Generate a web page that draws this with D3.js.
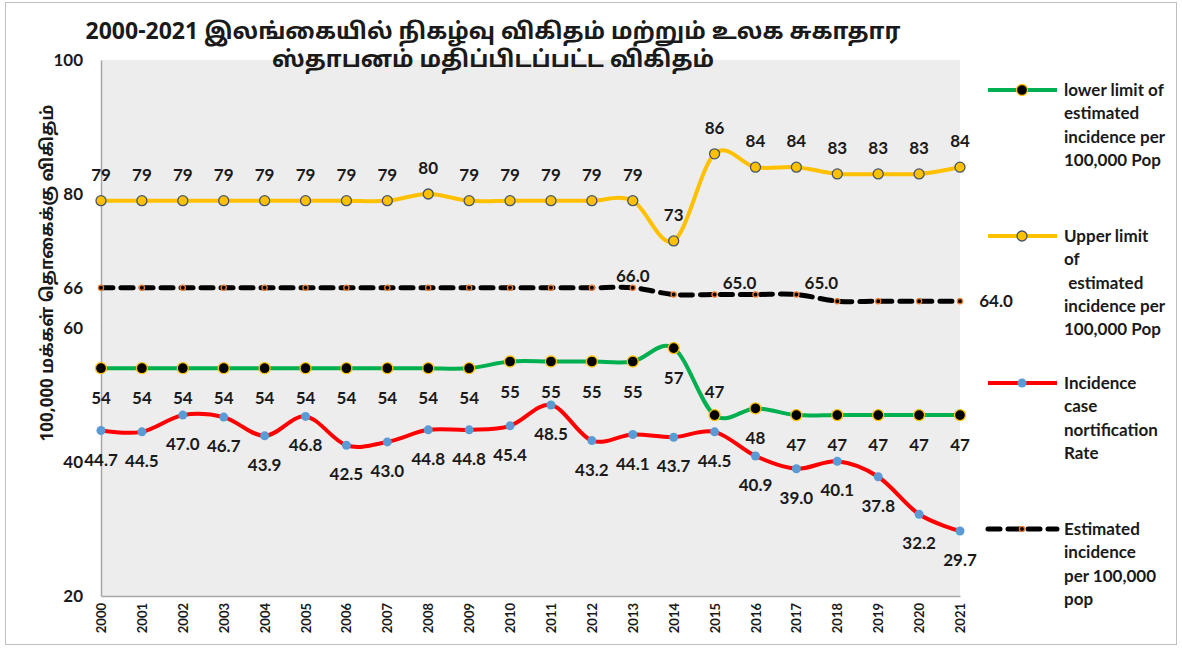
<!DOCTYPE html>
<html>
<head>
<meta charset="utf-8">
<script src="https://cdn.jsdelivr.net/npm/d3@7"></script>
<style>
  body { margin: 0; background: #fff; }
  svg { display: block; }
  text { font-family: Lato, "Noto Sans", sans-serif; font-weight: 700; fill: #1a1a1a; }
  .ta { font-family: "Noto Sans Tamil", "Lohit Tamil", "Noto Sans", sans-serif; }
</style>
</head>
<body>
<svg id="chart" width="1182" height="648"></svg>
<script>
// data
var years = [2000,2001,2002,2003,2004,2005,2006,2007,2008,2009,2010,2011,2012,2013,2014,2015,2016,2017,2018,2019,2020,2021];
var lowerLimit = [54,54,54,54,54,54,54,54,54,54,55,55,55,55,57,47,48,47,47,47,47,47];
var upperLimit = [79,79,79,79,79,79,79,79,80,79,79,79,79,79,73,86,84,84,83,83,83,84];
var notification = [44.7,44.5,47.0,46.7,43.9,46.8,42.5,43.0,44.8,44.8,45.4,48.5,43.2,44.1,43.7,44.5,40.9,39.0,40.1,37.8,32.2,29.7];
var estimated = [66,66,66,66,66,66,66,66,66,66,66,66,66,66,65,65,65,65,64,64,64,64];
var estLabelYears = [2013, 2015, 2017, 2021];
var yTicks = [20, 40, 60, 66, 80, 100];

var titleLines = ["2000-2021 இலங்கையில் நிகழ்வு விகிதம் மற்றும் உலக சுகாதார", "ஸ்தாபனம் மதிப்பிடப்பட்ட விகிதம்"];
var yTitle = "100,000 மக்கள் தொகைக்கு விகிதம்";

var svg = d3.select("#chart");

// outer frame
svg.append("rect").attr("x", 5.5).attr("y", 2.5).attr("width", 1171).attr("height", 642)
  .attr("fill", "#fff").attr("stroke", "#bfbfbf");

var x = d3.scalePoint().domain(years).range([101, 960]);
var y = d3.scaleLinear().domain([20, 100]).range([596, 60]);

// plot area
svg.append("rect").attr("x", 101).attr("y", 60).attr("width", 859).attr("height", 536).attr("fill", "#ededed");

// axes
svg.append("g").attr("transform", "translate(101,0)")
  .call(d3.axisLeft(y).tickValues(yTicks).tickSize(0).tickPadding(18))
  .call(function (g) {
    g.select(".domain").attr("stroke", "#a6a6a6").attr("stroke-width", 1.5);
    g.selectAll("text").style("font-size", "17px").attr("fill", "#1a1a1a");
  });
svg.append("g").attr("transform", "translate(0,596)")
  .call(d3.axisBottom(x).tickSize(0))
  .call(function (g) {
    g.select(".domain").attr("stroke", "#a6a6a6").attr("stroke-width", 1.5);
    g.selectAll("text").style("font-size", "13px").attr("fill", "#1a1a1a")
      .attr("text-anchor", "end").attr("dy", "0.35em")
      .attr("transform", "translate(0,7) rotate(-90)").attr("x", 0).attr("y", 0);
  });

// title
svg.append("text").attr("class", "ta").attr("text-anchor", "middle")
  .style("font-size", "23px")
  .selectAll("tspan").data(titleLines).enter().append("tspan")
  .attr("x", 493).attr("y", function (d, i) { return 39 + i * 28; })
  .text(function (d) { return d; });

svg.append("text").attr("class", "ta").attr("text-anchor", "middle")
  .attr("transform", "translate(53,273) rotate(-90)")
  .style("font-size", "17px").text(yTitle);

function line() {
  return d3.line().x(function (d, i) { return x(years[i]); }).y(function (d) { return y(d); })
    .curve(d3.curveCardinal.tension(0));
}

// estimated (dashed)
svg.append("path").datum(estimated).attr("d", line())
  .attr("fill", "none").attr("stroke", "#000").attr("stroke-width", 5)
  .attr("stroke-dasharray", "12,8").attr("stroke-linecap", "round");
svg.selectAll(".estDot").data(estimated).enter().append("circle")
  .attr("cx", function (d, i) { return x(years[i]); }).attr("cy", function (d) { return y(d); })
  .attr("r", 2.6).attr("fill", "#000").attr("stroke", "#ED7D31").attr("stroke-width", 1.3);

// upper limit
svg.append("path").datum(upperLimit).attr("d", line())
  .attr("fill", "none").attr("stroke", "#FFC000").attr("stroke-width", 4);
svg.selectAll(".upDot").data(upperLimit).enter().append("circle")
  .attr("cx", function (d, i) { return x(years[i]); }).attr("cy", function (d) { return y(d); })
  .attr("r", 5).attr("fill", "#FFC000").attr("stroke", "#44546A").attr("stroke-width", 1.3);

// lower limit
svg.append("path").datum(lowerLimit).attr("d", line())
  .attr("fill", "none").attr("stroke", "#00B050").attr("stroke-width", 4);
svg.selectAll(".loDot").data(lowerLimit).enter().append("circle")
  .attr("cx", function (d, i) { return x(years[i]); }).attr("cy", function (d) { return y(d); })
  .attr("r", 5.5).attr("fill", "#000").attr("stroke", "#FFC000").attr("stroke-width", 1.3);

// notification rate
svg.append("path").datum(notification).attr("d", line())
  .attr("fill", "none").attr("stroke", "#FF0000").attr("stroke-width", 4);
svg.selectAll(".ntDot").data(notification).enter().append("circle")
  .attr("cx", function (d, i) { return x(years[i]); }).attr("cy", function (d) { return y(d); })
  .attr("r", 4.5).attr("fill", "#5B9BD5");

// labels
var lbl = svg.append("g").attr("text-anchor", "middle").style("font-size", "17px");
lbl.selectAll(".upL").data(upperLimit).enter().append("text")
  .attr("x", function (d, i) { return x(years[i]); })
  .attr("y", function (d) { return y(d) - 20; })
  .text(function (d) { return d; });
lbl.selectAll(".loL").data(lowerLimit).enter().append("text")
  .attr("x", function (d, i) { return x(years[i]); })
  .attr("y", function (d, i) { return i === 15 ? y(d) - 17 : y(d) + 36; })
  .text(function (d) { return d; });
lbl.selectAll(".ntL").data(notification).enter().append("text")
  .attr("x", function (d, i) { return x(years[i]); })
  .attr("y", function (d) { return y(d) + 35; })
  .text(function (d) { return d.toFixed(1); });
lbl.selectAll(".esL").data(estLabelYears).enter().append("text")
  .attr("x", function (d) { return x(d) + (d === 2013 ? 0 : d === 2021 ? 36 : 25); })
  .attr("y", function (d) { var v = estimated[years.indexOf(d)]; return d === 2021 ? y(v) + 6 : y(v) - 6; })
  .text(function (d) { return estimated[years.indexOf(d)].toFixed(1); });

// legend
var legend = [
  { y: 90, color: "#00B050", dot: "#000", dotStroke: "#FFC000", r: 5.5, lines: ["lower limit of", "estimated", "incidence per", "100,000 Pop"] },
  { y: 236, color: "#FFC000", dot: "#FFC000", dotStroke: "#44546A", r: 5, lines: ["Upper limit", "of", "\u00a0estimated", "incidence per", "100,000 Pop"] },
  { y: 383, color: "#FF0000", dot: "#5B9BD5", dotStroke: "none", r: 4.5, lines: ["Incidence", "case", "nortification", "Rate"] },
  { y: 529, color: "#000", dot: "#000", dotStroke: "#ED7D31", r: 2.6, dash: true, lines: ["Estimated", "incidence", "per 100,000", "pop"] }
];
var lg = svg.append("g").selectAll("g").data(legend).enter().append("g");
lg.append("line").attr("x1", 988).attr("x2", 1057)
  .attr("y1", function (d) { return d.y; }).attr("y2", function (d) { return d.y; })
  .attr("stroke", function (d) { return d.color; })
  .attr("stroke-width", function (d) { return d.dash ? 5 : 4; })
  .attr("stroke-dasharray", function (d) { return d.dash ? "12,8" : null; })
  .attr("stroke-linecap", function (d) { return d.dash ? "round" : "butt"; });
lg.append("circle").attr("cx", 1022).attr("cy", function (d) { return d.y; })
  .attr("r", function (d) { return d.r; })
  .attr("fill", function (d) { return d.dot; }).attr("stroke", function (d) { return d.dotStroke; })
  .attr("stroke-width", 1.3);
lg.append("text").style("font-size", "17px")
  .each(function (d) {
    d3.select(this).selectAll("tspan").data(d.lines).enter().append("tspan")
      .attr("x", 1064).attr("y", function (t, i) { return d.y + 6 + i * 23.3; })
      .text(function (t) { return t; });
  });
</script>
</body>
</html>
